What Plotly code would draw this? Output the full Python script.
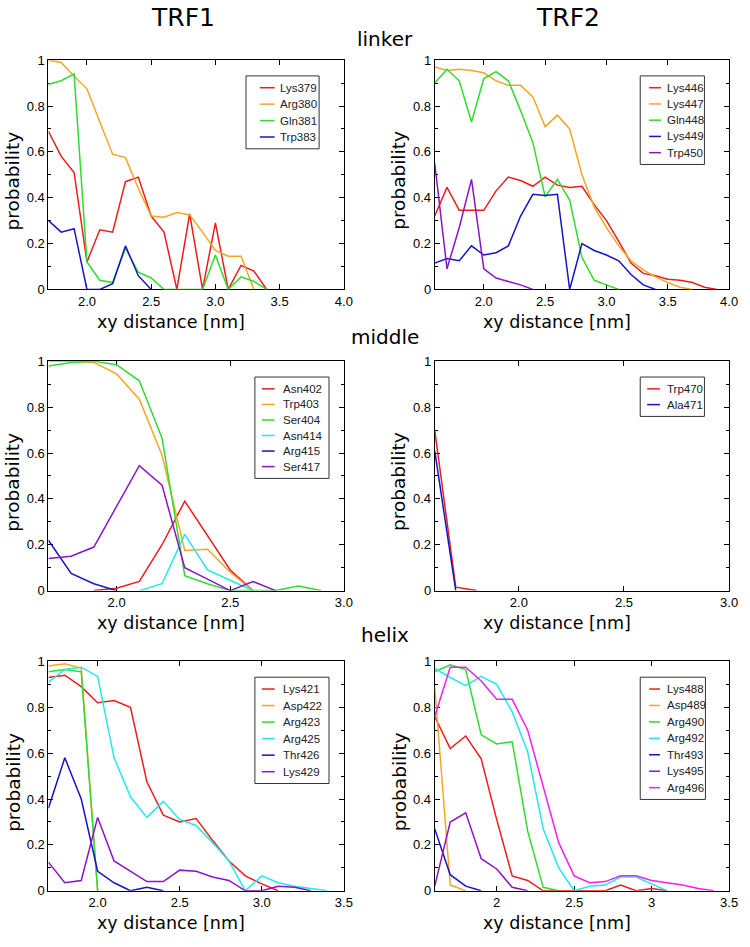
import plotly.graph_objects as go

# ---------------- data ----------------
# TRF1 linker
x_trf1_linker = [1.7, 1.8, 1.9, 2.0, 2.1, 2.2, 2.3, 2.4, 2.5, 2.6, 2.7, 2.8, 2.9, 3.0, 3.1, 3.2, 3.3, 3.4]
lys379 = [0.69, 0.58, 0.51, 0.12, 0.26, 0.25, 0.47, 0.49, 0.32, 0.25, 0.0, 0.33, 0.0, 0.29, 0.0, 0.105, 0.08, 0.0]
arg380 = [1.0, 0.99, 0.93, 0.875, 0.73, 0.59, 0.575, 0.44, 0.32, 0.315, 0.335, 0.325, 0.25, 0.17, 0.145, 0.145, 0.0, None]
gln381 = [0.895, 0.91, 0.94, 0.12, 0.04, 0.03, 0.18, 0.075, 0.05, 0.0, 0.0, 0.0, 0.0, 0.15, 0.0, 0.055, 0.035, 0.0]
trp383 = [0.30, 0.25, 0.265, 0.0, 0.0, 0.025, 0.19, 0.06, 0.0, None, None, None, None, None, None, None, None, None]

# TRF2 linker
x_trf2_linker = [1.6, 1.7, 1.8, 1.9, 2.0, 2.1, 2.2, 2.3, 2.4, 2.5, 2.6, 2.7, 2.8, 2.9, 3.0, 3.1, 3.2, 3.3, 3.4, 3.5, 3.6, 3.7, 3.8, 3.9]
lys446 = [0.32, 0.445, 0.345, 0.345, 0.345, 0.43, 0.49, 0.475, 0.45, 0.49, 0.455, 0.445, 0.45, 0.37, 0.30, 0.21, 0.115, 0.07, 0.06, 0.045, 0.04, 0.03, 0.01, 0.0]
lys447 = [0.97, 0.955, 0.96, 0.955, 0.945, 0.91, 0.89, 0.89, 0.84, 0.71, 0.76, 0.70, 0.50, 0.36, 0.27, 0.19, 0.125, 0.085, 0.055, 0.03, 0.01, 0.0, None, None]
gln448 = [0.90, 0.96, 0.91, 0.73, 0.92, 0.95, 0.91, 0.78, 0.64, 0.405, 0.48, 0.39, 0.14, 0.04, 0.02, 0.0, None, None, None, None, None, None, None, None]
lys449 = [0.115, 0.135, 0.125, 0.19, 0.15, 0.16, 0.19, 0.32, 0.415, 0.41, 0.415, 0.0, 0.20, 0.17, 0.15, 0.125, 0.065, 0.02, 0.0, None, None, None, None, None]
trp450 = [0.55, 0.09, 0.27, 0.48, 0.09, 0.05, 0.035, 0.02, 0.0, None, None, None, None, None, None, None, None, None, None, None, None, None, None, None]

# TRF1 middle
x_trf1_middle = [1.7, 1.8, 1.9, 2.0, 2.1, 2.2, 2.3, 2.4, 2.5, 2.6, 2.7, 2.8, 2.9]
asn402 = [None, None, 0.0, 0.01, 0.04, 0.20, 0.39, 0.24, 0.09, 0.0, None, None, None]
trp403 = [1.0, 1.0, 0.995, 0.945, 0.835, 0.59, 0.175, 0.18, 0.08, 0.0, None, None, None]
ser404 = [0.98, 0.995, 1.0, 0.985, 0.915, 0.665, 0.065, 0.03, 0.0, 0.0, 0.0, 0.02, 0.0]
asn414 = [None, None, None, None, 0.0, 0.03, 0.245, 0.09, 0.045, 0.0, None, None, None]
arg415 = [0.22, 0.075, 0.03, 0.0, None, None, None, None, None, None, None, None, None]
ser417 = [0.14, 0.15, 0.19, 0.37, 0.545, 0.46, 0.10, 0.05, 0.0, 0.04, 0.0, None, None]

# TRF2 middle
x_trf2_middle = [1.6, 1.7, 1.8]
trp470 = [0.70, 0.015, 0.0]
ala471 = [0.61, 0.0, None]

# TRF1 helix
x_trf1_helix = [1.7, 1.8, 1.9, 2.0, 2.1, 2.2, 2.3, 2.4, 2.5, 2.6, 2.7, 2.8, 2.9, 3.0, 3.1, 3.2, 3.3, 3.4]
lys421 = [0.93, 0.94, 0.89, 0.82, 0.83, 0.80, 0.475, 0.33, 0.30, 0.315, 0.22, 0.13, 0.065, 0.03, 0.0, None, None, None]
asp422 = [0.98, 0.99, 0.97, 0.0, None, None, None, None, None, None, None, None, None, None, None, None, None, None]
arg423 = [0.955, 0.965, 0.955, 0.0, None, None, None, None, None, None, None, None, None, None, None, None, None, None]
arg425 = [0.91, 0.965, 0.975, 0.935, 0.58, 0.41, 0.32, 0.39, 0.31, 0.285, 0.21, 0.13, 0.0, 0.065, 0.035, 0.02, 0.01, 0.0]
thr426 = [0.36, 0.58, 0.40, 0.085, 0.035, 0.0, 0.015, 0.0, None, None, None, None, None, None, None, None, None, None]
lys429 = [0.125, 0.035, 0.045, 0.32, 0.13, 0.085, 0.04, 0.04, 0.09, 0.085, 0.06, 0.045, 0.0, 0.0, 0.02, 0.015, 0.0, None]

# TRF2 helix
x_trf2_helix = [1.6, 1.7, 1.8, 1.9, 2.0, 2.1, 2.2, 2.3, 2.4, 2.5, 2.6, 2.7, 2.8, 2.9, 3.0, 3.1, 3.2, 3.3, 3.4]
lys488 = [0.76, 0.62, 0.675, 0.575, 0.31, 0.065, 0.045, 0.0, 0.0, 0.0, 0.0, 0.0, 0.025, 0.0, 0.01, 0.0, None, None, None]
asp489 = [0.89, 0.025, 0.0, None, None, None, None, None, None, None, None, None, None, None, None, None, None, None, None]
arg490 = [0.955, 0.985, 0.965, 0.68, 0.64, 0.65, 0.26, 0.015, 0.0, None, None, None, None, None, None, None, None, None, None]
arg492 = [0.97, 0.93, 0.895, 0.935, 0.90, 0.78, 0.605, 0.27, 0.10, 0.0, 0.02, 0.025, 0.06, 0.06, 0.03, 0.0, None, None, None]
thr493 = [0.27, 0.07, 0.02, 0.0, None, None, None, None, None, None, None, None, None, None, None, None, None, None, None]
lys495 = [0.02, 0.30, 0.34, 0.14, 0.095, 0.015, 0.0, None, None, None, None, None, None, None, None, None, None, None, None]
arg496 = [0.76, 0.975, 0.975, 0.915, 0.835, 0.835, 0.70, 0.46, 0.21, 0.065, 0.035, 0.04, 0.065, 0.065, 0.045, 0.035, 0.025, 0.01, 0.0]

# tick labels
y_tickvals = [0, 0.2, 0.4, 0.6, 0.8, 1.0]
y_ticktext = ["0", "0.2", "0.4", "0.6", "0.8", "1"]
col_titles = ["TRF1", "TRF2"]
row_titles = ["linker", "middle", "helix"]

# ---------------- styling ----------------
RED, ORANGE, GREEN, CYAN = "#ee1c1c", "#f5a623", "#2fdc2f", "#22eaea"
BLUE, PURPLE, MAGENTA = "#1414c8", "#8c14c8", "#f020f0"

panels = [
    dict(x=x_trf1_linker, series=[("Lys379", lys379, RED), ("Arg380", arg380, ORANGE),
                                  ("Gln381", gln381, GREEN), ("Trp383", trp383, BLUE)],
         xrange=[1.7, 4.0], fmt=".1f", box=(49, 348, 54, 287),
         leg=dict(l=249, r=323, t=70, step=16.7, l0=263, l1=278, tx=281)),
    dict(x=x_trf2_linker, series=[("Lys446", lys446, RED), ("Lys447", lys447, ORANGE),
                                  ("Gln448", gln448, GREEN), ("Lys449", lys449, BLUE),
                                  ("Trp450", trp450, PURPLE)],
         xrange=[1.6, 4.0], fmt=".1f", box=(440, 738, 54, 287),
         leg=dict(l=648, r=713, t=70, step=16.5, l0=657, l1=669, tx=673)),
    dict(x=x_trf1_middle, series=[("Asn402", asn402, RED), ("Trp403", trp403, ORANGE),
                                  ("Ser404", ser404, GREEN), ("Asn414", asn414, CYAN),
                                  ("Arg415", arg415, BLUE), ("Ser417", ser417, PURPLE)],
         xrange=[1.7, 3.0], fmt=".1f", box=(49, 348, 360, 593),
         leg=dict(l=258, r=333, t=376, step=15.8, l0=265, l1=278, tx=284)),
    dict(x=x_trf2_middle, series=[("Trp470", trp470, RED), ("Ala471", ala471, BLUE)],
         xrange=[1.6, 3.0], fmt=".1f", box=(440, 738, 360, 593),
         leg=dict(l=648, r=713, t=376, step=16.0, l0=655, l1=668, tx=673)),
    dict(x=x_trf1_helix, series=[("Lys421", lys421, RED), ("Asp422", asp422, ORANGE),
                                 ("Arg423", arg423, GREEN), ("Arg425", arg425, CYAN),
                                 ("Thr426", thr426, BLUE), ("Lys429", lys429, PURPLE)],
         xrange=[1.7, 3.5], fmt=".1f", box=(49, 348, 665, 898),
         leg=dict(l=258, r=333, t=681, step=16.8, l0=265, l1=278, tx=284)),
    dict(x=x_trf2_helix, series=[("Lys488", lys488, RED), ("Asp489", asp489, ORANGE),
                                 ("Arg490", arg490, GREEN), ("Arg492", arg492, CYAN),
                                 ("Thr493", thr493, BLUE), ("Lys495", lys495, PURPLE),
                                 ("Arg496", arg496, MAGENTA)],
         xrange=[1.6, 3.5], fmt="", box=(440, 738, 665, 898),
         leg=dict(l=648, r=714, t=681, step=16.7, l0=657, l1=668, tx=673)),
]

W, H = 750, 947
TITLE_FONT = "DejaVu Sans"
TICK_FONT = "Liberation Sans"


def px(xp):
    return xp / W


def py(yp):
    return 1 - yp / H


fig = go.Figure()
shapes = []
annotations = []

for i, p in enumerate(panels):
    n = i + 1
    xname = "x" if n == 1 else f"x{n}"
    yname = "y" if n == 1 else f"y{n}"
    l, r, t, b = p["box"]
    for name, vals, color in p["series"]:
        fig.add_trace(go.Scatter(x=p["x"], y=vals, mode="lines", name=name,
                                 line=dict(color=color, width=1.5),
                                 xaxis=xname, yaxis=yname, showlegend=False))
    common = dict(showline=True, linecolor="black", linewidth=1, mirror="allticks",
                  ticks="inside", tickcolor="black", ticklen=5, tickwidth=1,
                  showgrid=False, zeroline=False, layer="below traces",
                  tickfont=dict(family=TICK_FONT, size=13, color="black"))
    fig.update_layout({
        ("xaxis" if n == 1 else f"xaxis{n}"): dict(
            domain=[px(l), px(r)], range=p["xrange"], anchor=yname,
            dtick=0.5, tick0=0, tickformat=p["fmt"], ticklabeloverflow="allow",
            **common),
        ("yaxis" if n == 1 else f"yaxis{n}"): dict(
            domain=[py(b), py(t)], range=[0, 1], anchor=xname,
            tickvals=y_tickvals, ticktext=y_ticktext,
            minor=dict(ticks="inside", dtick=0.1, tick0=0, ticklen=3, tickcolor="black"),
            **common),
    })
    # axis titles
    annotations.append(dict(text="xy distance [nm]", x=px((l + r) / 2 - 25), y=py(b + 33),
                            xref="paper", yref="paper", showarrow=False,
                            xanchor="center", yanchor="middle",
                            font=dict(family=TITLE_FONT, size=17.5, color="black")))
    annotations.append(dict(text="probability", x=px(l - 36), y=py((t + b) / 2 + 6),
                            xref="paper", yref="paper", showarrow=False, textangle=-90,
                            xanchor="center", yanchor="middle",
                            font=dict(family=TITLE_FONT, size=18.5, color="black")))
    # legend box
    lg = p["leg"]
    nrow = len(p["series"])
    bottom = lg["t"] + 12 + (nrow - 1) * lg["step"] + 12
    shapes.append(dict(type="rect", xref="paper", yref="paper",
                       x0=px(lg["l"]), x1=px(lg["r"]), y0=py(bottom), y1=py(lg["t"]),
                       line=dict(color="#333333", width=1), fillcolor="white", layer="above"))
    for k, (name, vals, color) in enumerate(p["series"]):
        yy = lg["t"] + 12 + k * lg["step"]
        shapes.append(dict(type="line", xref="paper", yref="paper",
                           x0=px(lg["l0"]), x1=px(lg["l1"]), y0=py(yy), y1=py(yy),
                           line=dict(color=color, width=1.5), layer="above"))
        annotations.append(dict(text=name, x=px(lg["tx"]), y=py(yy), xref="paper", yref="paper",
                                showarrow=False, xanchor="left", yanchor="middle",
                                font=dict(family=TICK_FONT, size=11.5, color="#222222")))

# column titles
for txt, xc in zip(col_titles, [185, 575]):
    annotations.append(dict(text=txt, x=px(xc), y=py(11), xref="paper", yref="paper",
                            showarrow=False, xanchor="center", yanchor="middle",
                            font=dict(family=TITLE_FONT, size=25, color="black")))
# row titles
for txt, yc in zip(row_titles, [33, 335, 638]):
    annotations.append(dict(text=txt, x=px(390), y=py(yc), xref="paper", yref="paper",
                            showarrow=False, xanchor="center", yanchor="middle",
                            font=dict(family=TITLE_FONT, size=20, color="black")))

fig.update_layout(width=W, height=H, margin=dict(l=0, r=0, t=0, b=0),
                  paper_bgcolor="white", plot_bgcolor="white",
                  shapes=shapes, annotations=annotations, showlegend=False)

fig.write_html("out.html", config={"displayModeBar": False},
               post_script="document.body.style.margin='0px';")
